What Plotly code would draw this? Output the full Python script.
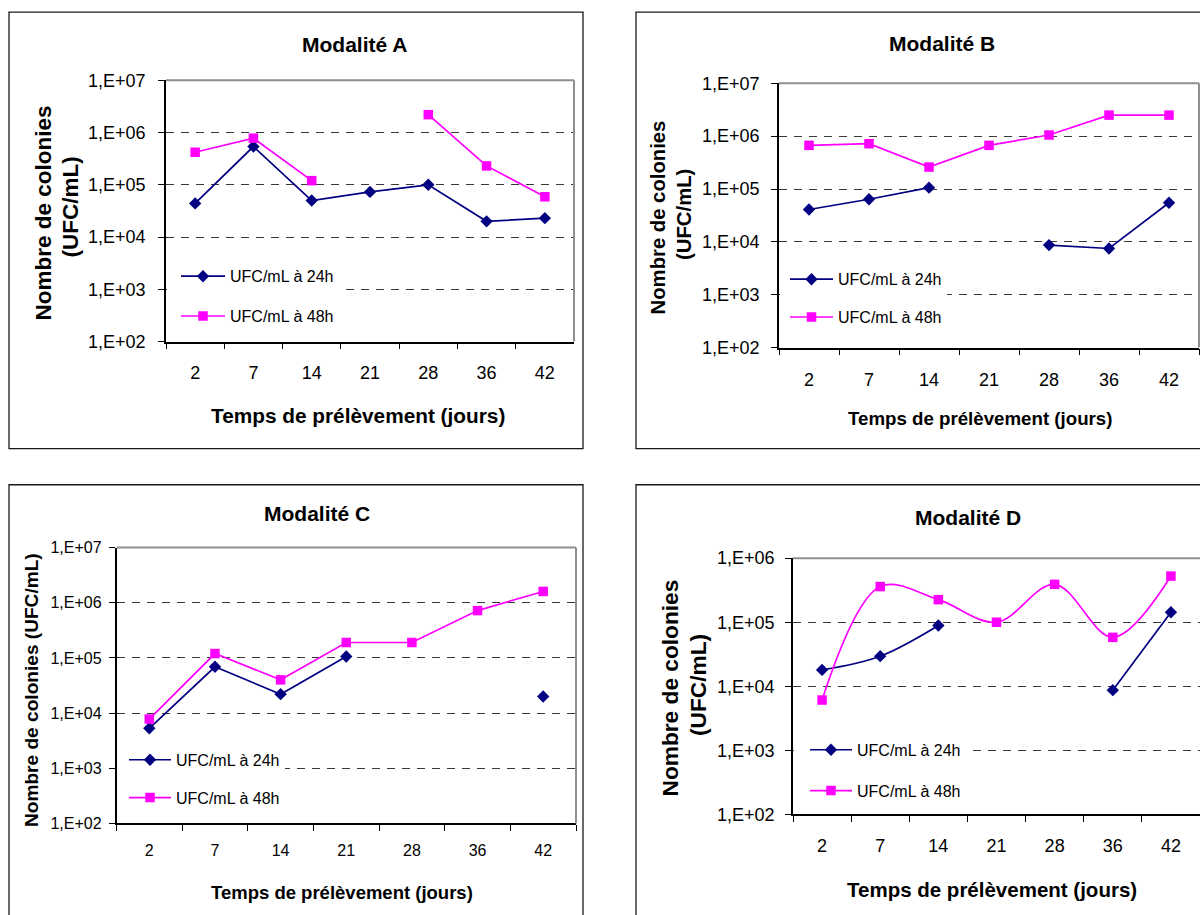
import plotly.graph_objects as go

# ---------------- data ----------------
days = ["2", "7", "14", "21", "28", "36", "42"]
y_tickvals = [1e2, 1e3, 1e4, 1e5, 1e6, 1e7]
y_ticktext = ["1,E+02", "1,E+03", "1,E+04", "1,E+05", "1,E+06", "1,E+07"]
series_names = ["UFC/mL à 24h", "UFC/mL à 48h"]

a_24h = [4.4e4, 5.4e5, 5.0e4, 7.3e4, 1.0e5, 2.0e4, 2.3e4]
a_48h = [4.2e5, 7.8e5, 1.2e5, None, 2.2e6, 2.3e5, 5.9e4]
b_24h = [4.1e4, 6.4e4, 1.06e5, None, 8.7e3, 7.5e3, 5.5e4]
b_48h = [6.7e5, 7.2e5, 2.6e5, 6.7e5, 1.05e6, 2.5e6, 2.5e6]
c_24h = [5.3e3, 6.9e4, 2.2e4, 1.06e5, None, None, 2.0e4]
c_48h = [7.8e3, 1.2e5, 4.0e4, 1.9e5, 1.9e5, 7.2e5, 1.6e6]
d_24h = [1.8e4, 2.95e4, 8.9e4, None, None, 8.7e3, 1.43e5]
d_48h = [6.1e3, 3.6e5, 2.25e5, 1.0e5, 3.9e5, 5.8e4, 5.25e5]

titles = ["Modalité A", "Modalité B", "Modalité C", "Modalité D"]
x_title = "Temps de prélèvement (jours)"
y_title_l1 = "Nombre de colonies"
y_title_l2 = "(UFC/mL)"
y_title_1line = "Nombre de colonies (UFC/mL)"

# ---------------- layout helpers ----------------
W, H = 1200, 915
VOFF, VSCALE = 9.8, 0.977   # vertical mapping of the photographed page


def fx(p):
    return p / W


def ly_(p):
    return (p - VOFF) / VSCALE


def fy(p):
    return 1 - ly_(p) / H


NAVY = "#000080"
MAGENTA = "#FF00FF"
FONT = "Liberation Sans, Arial, sans-serif"

panels = [
    dict(s24=a_24h, s48=a_48h, box=(9, 12, 583, 448), plot=(166, 80, 574, 341), ymax=7,
         tickfont=18, ygap=18, xstand=14, frame_right=True,
         title=(354, 44, 21), xt=(358, 415, 20.8),
         yt=[(43, 213, 22.5, y_title_l1), (70, 207, 22.5, y_title_l2)],
         leg=(167, 9, 44, 276, 16), smooth=False),
    dict(s24=b_24h, s48=b_48h, box=(636, 12, 1230, 448), plot=(779, 83, 1199, 347), ymax=7,
         tickfont=18, ygap=17, xstand=15, frame_right=True,
         title=(942, 43, 21), xt=(980, 418, 18.7),
         yt=[(658, 217, 20.3, y_title_l1), (684.5, 214, 20.3, y_title_l2)],
         leg=(780, 5, 43, 279, 14), smooth=False),
    dict(s24=c_24h, s48=c_48h, box=(9, 484, 583, 960), plot=(116.5, 546.7, 576, 822.3), ymax=7,
         tickfont=16, ygap=13, xstand=12, frame_right=True,
         title=(317, 513, 21), xt=(341.5, 891, 18.5),
         yt=[(32, 689, 19.1, y_title_1line)],
         leg=(117, 7, 42, 759, 14), smooth=False),
    dict(s24=d_24h, s48=d_48h, box=(636, 484, 1230, 960), plot=(793, 557.3, 1200, 813.3), ymax=6,
         tickfont=18, ygap=16, xstand=14, frame_right=False,
         title=(968, 517, 21), xt=(992, 888, 20.5),
         yt=[(670, 687.5, 22.7, y_title_l1), (698, 684, 22.7, y_title_l2)],
         leg=(794, 11, 42, 749, 17), smooth=True),
]

fig = go.Figure()
shapes = []
annotations = []
layout_update = {}

for i, p in enumerate(panels, start=1):
    sfx = "" if i == 1 else str(i)
    xa, ya = "x" + sfx, "y" + sfx
    leg_key = "legend" if i == 1 else "legend" + str(i)
    x0, y0, x1, y1 = p["plot"]
    shape = "spline" if p["smooth"] else "linear"

    fig.add_trace(go.Scatter(
        x=days, y=p["s24"], name=series_names[0], mode="lines+markers",
        xaxis=xa, yaxis=ya, legend=leg_key, legendgroup=f"g{i}a",
        line=dict(color=NAVY, width=1.7, shape=shape),
        marker=dict(symbol="diamond", size=9.5, color=NAVY),
        connectgaps=False, cliponaxis=False))
    fig.add_trace(go.Scatter(
        x=days, y=p["s48"], name=series_names[1], mode="lines+markers",
        xaxis=xa, yaxis=ya, legend=leg_key, legendgroup=f"g{i}b",
        line=dict(color=MAGENTA, width=1.7, shape=shape),
        marker=dict(symbol="square", size=9.5, color=MAGENTA),
        connectgaps=False, cliponaxis=False))

    tf = p["tickfont"]
    layout_update["xaxis" + sfx] = dict(
        domain=[fx(x0), min(1.0, fx(x1))], anchor=ya, type="category",
        categoryorder="array", categoryarray=days, range=[-0.5, 6.5],
        showgrid=False, showline=True, linecolor="#000000", linewidth=1.5,
        ticks="outside", ticklen=6, tickwidth=1.2, tickcolor="#000000",
        tickson="boundaries", tickfont=dict(family=FONT, size=tf, color="#000000"),
        ticklabelstandoff=int(p["xstand"]), fixedrange=True)
    layout_update["yaxis" + sfx] = dict(
        domain=[fy(y1), fy(y0)], anchor=xa, type="log", range=[2, p["ymax"]],
        tickvals=y_tickvals, ticktext=y_ticktext,
        showgrid=True, gridcolor="#3a3a3a", gridwidth=1.2, griddash="8px,7px",
        showline=True, linecolor="#000000", linewidth=1.5,
        ticks="outside", ticklen=6, tickwidth=1.2, tickcolor="#000000",
        tickfont=dict(family=FONT, size=tf, color="#000000"),
        ticklabelstandoff=int(p["ygap"] - 9), zeroline=False, fixedrange=True)

    lx, indent, iw, first_item_y, gap = p["leg"]
    top_layout = ly_(first_item_y) - 17.6
    layout_update[leg_key] = dict(
        x=fx(lx), y=1 - top_layout / H, xanchor="left", yanchor="top",
        bgcolor="#FFFFFF", borderwidth=0, indentation=indent, itemwidth=max(30, iw),
        font=dict(family=FONT, size=16, color="#000000"), tracegroupgap=gap,
        itemclick=False, itemdoubleclick=False)

    # outer panel box
    bx0, by0, bx1, by1 = p["box"]
    shapes.append(dict(type="rect", xref="paper", yref="paper",
                       x0=fx(bx0), x1=fx(bx1), y0=fy(by1), y1=fy(by0),
                       line=dict(color="#1a1a1a", width=1.3), fillcolor="rgba(0,0,0,0)"))
    # grey top/right frame of plot area
    shapes.append(dict(type="line", xref=xa + " domain", yref=ya + " domain",
                       x0=0, x1=1, y0=1, y1=1, line=dict(color="#8f8f8f", width=2)))
    if p["frame_right"]:
        shapes.append(dict(type="line", xref=xa + " domain", yref=ya + " domain",
                           x0=1, x1=1, y0=0, y1=1, line=dict(color="#8f8f8f", width=2)))

    tx, ty, ts = p["title"]
    annotations.append(dict(text="<b>" + titles[i - 1] + "</b>", x=fx(tx), y=fy(ty),
                            xref="paper", yref="paper", xanchor="center", yanchor="middle",
                            showarrow=False, font=dict(family=FONT, size=ts, color="#000000")))
    ax_, ay_, as_ = p["xt"]
    annotations.append(dict(text="<b>" + x_title + "</b>", x=fx(ax_), y=fy(ay_),
                            xref="paper", yref="paper", xanchor="center", yanchor="middle",
                            showarrow=False, font=dict(family=FONT, size=as_, color="#000000")))
    for (yx, yy, ys, ytxt) in p["yt"]:
        annotations.append(dict(text="<b>" + ytxt + "</b>",
                                x=fx(yx), y=fy(yy), textangle=-90,
                                xref="paper", yref="paper", xanchor="center", yanchor="middle",
                                showarrow=False, font=dict(family=FONT, size=ys, color="#000000")))

fig.update_layout(**layout_update)
fig.update_layout(
    width=W, height=H, margin=dict(l=0, r=0, t=0, b=0),
    paper_bgcolor="#FFFFFF", plot_bgcolor="#FFFFFF",
    font=dict(family=FONT, color="#000000"),
    shapes=shapes, annotations=annotations, showlegend=True,
)

fig.write_html("out.html", config={"displayModeBar": False},
               post_script="document.body.style.margin='0px';document.body.style.overflow='hidden';")
